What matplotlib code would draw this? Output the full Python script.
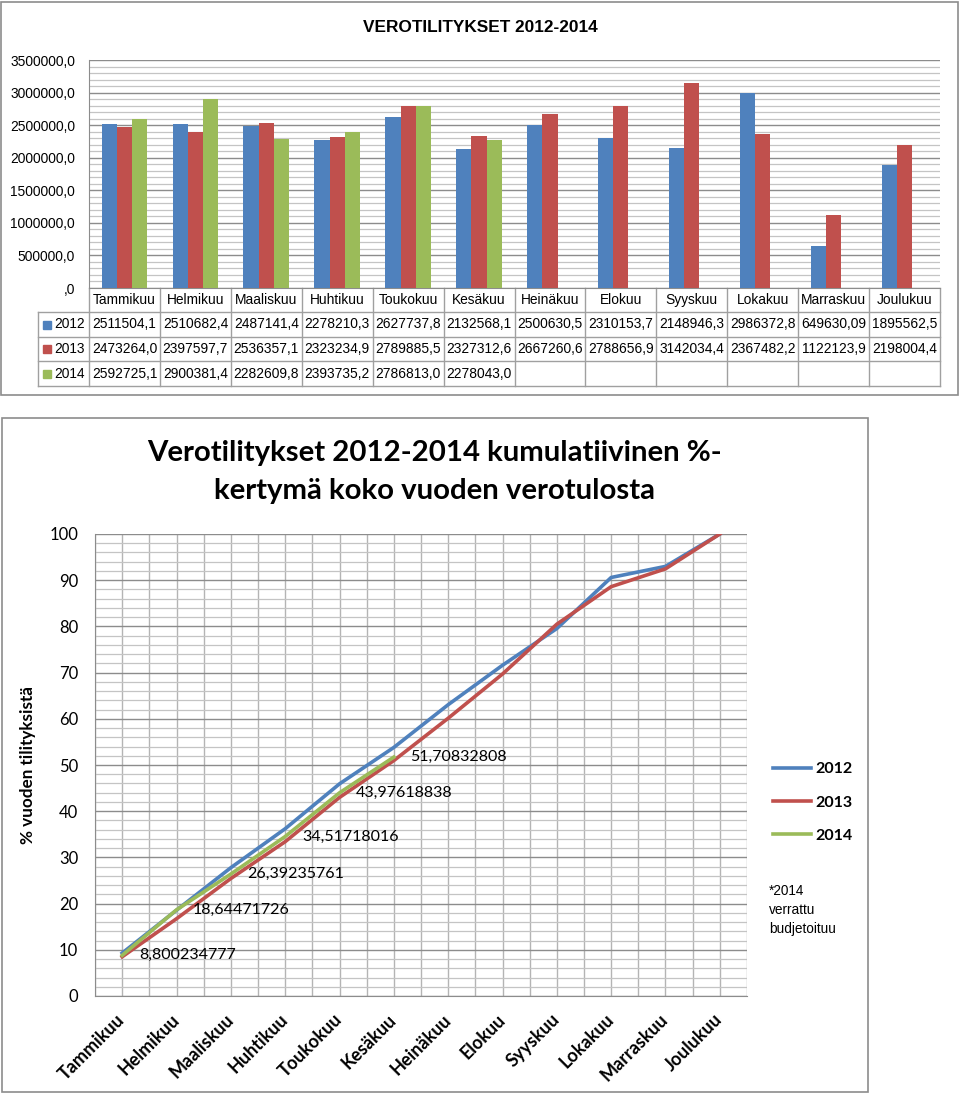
import numpy as np
import matplotlib.pyplot as plt
import matplotlib.transforms as mtransforms
from matplotlib.patches import Rectangle

# Kuukaudet ja vuodet
kuukaudet = ['Tammikuu', 'Helmikuu', 'Maaliskuu', 'Huhtikuu', 'Toukokuu', 'Kesäkuu',
             'Heinäkuu', 'Elokuu', 'Syyskuu', 'Lokakuu', 'Marraskuu', 'Joulukuu']
vuodet = ['2012', '2013', '2014']

# Verotilitykset (euroa)
tilitykset_2012 = [2511504.1, 2510682.4, 2487141.4, 2278210.3, 2627737.8, 2132568.1,
                   2500630.5, 2310153.7, 2148946.3, 2986372.8, 649630.09, 1895562.5]
tilitykset_2013 = [2473264.0, 2397597.7, 2536357.1, 2323234.9, 2789885.5, 2327312.6,
                   2667260.6, 2788656.9, 3142034.4, 2367482.2, 1122123.9, 2198004.4]
tilitykset_2014 = [2592725.1, 2900381.4, 2282609.8, 2393735.2, 2786813.0, 2278043.0]

# Taulukon tekstit sellaisinaan
taulukko_2012 = ['2511504,1', '2510682,4', '2487141,4', '2278210,3', '2627737,8', '2132568,1',
                 '2500630,5', '2310153,7', '2148946,3', '2986372,8', '649630,09', '1895562,5']
taulukko_2013 = ['2473264,0', '2397597,7', '2536357,1', '2323234,9', '2789885,5', '2327312,6',
                 '2667260,6', '2788656,9', '3142034,4', '2367482,2', '1122123,9', '2198004,4']
taulukko_2014 = ['2592725,1', '2900381,4', '2282609,8', '2393735,2', '2786813,0', '2278043,0']
y_tikit_yla = [',0', '500000,0', '1000000,0', '1500000,0', '2000000,0',
               '2500000,0', '3000000,0', '3500000,0']

# Kumulatiivinen kertymä (%)
kertyma_2012 = [9.29, 18.57, 27.77, 36.20, 45.92, 53.80, 63.05, 71.59, 79.54, 90.59, 92.99, 100.0]
kertyma_2013 = [8.49, 16.72, 25.43, 33.40, 42.98, 50.96, 60.12, 69.69, 80.48, 88.60, 92.46, 100.0]
kertyma_2014 = [8.800234777, 18.64471726, 26.39235761, 34.51718016, 43.97618838, 51.70832808]

sininen = '#4F81BD'
punainen = '#C0504D'
vihrea = '#9BBB59'
arial = ['Liberation Sans', 'DejaVu Sans']
calibri = ['Lato', 'DejaVu Sans']

W, H = 960, 1096
fig = plt.figure(figsize=(W / 100, H / 100), dpi=100)


def fx(px):
    return px / W


def fy(py):
    return 1 - py / H


# Kehykset
fig.add_artist(Rectangle((fx(1), fy(395)), fx(958) - fx(1), fy(2) - fy(395),
                         fill=False, ec='#8c8c8c', lw=1.2, transform=fig.transFigure))
fig.add_artist(Rectangle((fx(2), fy(1092)), fx(868) - fx(2), fy(418) - fy(1092),
                         fill=False, ec='#8c8c8c', lw=1.2, transform=fig.transFigure))

# ---------------- Ylempi kuva: pylväät + taulukko ----------------
ax1 = fig.add_axes([fx(89), fy(288), fx(940) - fx(89), fy(60) - fy(288)])
x = np.arange(len(kuukaudet))
w = 0.215
ax1.bar(x - w, tilitykset_2012, w, color=sininen, zorder=3)
ax1.bar(x, tilitykset_2013, w, color=punainen, zorder=3)
ax1.bar(x[:len(tilitykset_2014)] + w, tilitykset_2014, w, color=vihrea, zorder=3)
ax1.set_xlim(-0.5, 11.5)
ax1.set_ylim(0, 3500000)
ax1.set_yticks(np.arange(0, 3500001, 500000))
ax1.set_yticklabels(y_tikit_yla, family=arial, fontsize=9.9)
ax1.set_yticks(np.arange(0, 3500001, 100000), minor=True)
ax1.set_xticks([])
ax1.grid(which='major', axis='y', color='#8c8c8c', lw=1.0)
ax1.grid(which='minor', axis='y', color='#c4c4c4', lw=0.9)
ax1.set_axisbelow(True)
ax1.tick_params(which='both', length=0, pad=10)
for s in ['top', 'right']:
    ax1.spines[s].set_visible(False)
for s in ['left', 'bottom']:
    ax1.spines[s].set_color('#8c8c8c')

fig.text(0.5, fy(28), 'VEROTILITYKSET 2012-2014', ha='center', va='center',
         family=arial, fontweight='bold', fontsize=12.4)

# Taulukko akselin alle
tr = mtransforms.blended_transform_factory(ax1.transData, ax1.transAxes)
rivit_px = [288, 312, 337, 361, 386]
rivit = [(288 - p) / 228 for p in rivit_px]
vasen = -0.5 - 51 / 70.92
viiva = dict(color='#a0a0a0', lw=1.0, transform=tr, clip_on=False)
for r in rivit[1:]:
    ax1.plot([vasen, 11.5], [r, r], **viiva)
for k in range(13):
    ax1.plot([k - 0.5, k - 0.5], [rivit[0], rivit[-1]], **viiva)
ax1.plot([vasen, vasen], [rivit[1], rivit[-1]], **viiva)

tfont = dict(family=arial, fontsize=9.9, ha='center', va='center', transform=tr)
yy = [(rivit[i] + rivit[i + 1]) / 2 for i in range(4)]
for i, k in enumerate(kuukaudet):
    ax1.text(i, yy[0], k, **tfont)
for rivi, (tekstit, vari, vuosi) in enumerate(zip([taulukko_2012, taulukko_2013, taulukko_2014],
                                                   [sininen, punainen, vihrea], vuodet)):
    for i, t in enumerate(tekstit):
        ax1.text(i, yy[rivi + 1], t, **tfont)
    ax1.plot([-0.5 - 42 / 70.92], [yy[rivi + 1]], marker='s', ms=6, color=vari,
             transform=tr, clip_on=False)
    ax1.text(-0.5 - 4 / 70.92, yy[rivi + 1], vuosi, family=arial, fontsize=9.9,
             ha='right', va='center', transform=tr)

# ---------------- Alempi kuva: kumulatiivinen kertymä ----------------
ax2 = fig.add_axes([fx(95), fy(996), fx(747) - fx(95), fy(534) - fy(996)])
ax2.plot(x, kertyma_2012, color=sininen, lw=2.6, label='2012', zorder=3)
ax2.plot(x, kertyma_2013, color=punainen, lw=2.6, label='2013', zorder=3)
x14 = x[:len(kertyma_2014)]
ax2.plot(x14, kertyma_2014, color=vihrea, lw=2.6, label='2014', zorder=4)
for xi, v in zip(x14, kertyma_2014):
    ax2.annotate(f'{v}'.replace('.', ','), (xi, v), xytext=(12, 0),
                 textcoords='offset points', ha='left', va='center',
                 family=calibri, fontsize=11.5, zorder=5)
ax2.set_xlim(-0.5, 11.5)
ax2.set_ylim(0, 100)
ax2.set_yticks(np.arange(0, 101, 10))
ax2.set_yticks(np.arange(0, 101, 2), minor=True)
ax2.set_xticks(x)
ax2.set_xticks(np.arange(-0.5, 12, 1), minor=True)
ax2.grid(which='major', axis='y', color='#8c8c8c', lw=1.0)
ax2.grid(which='minor', axis='y', color='#c4c4c4', lw=0.9)
ax2.grid(which='both', axis='x', color='#b4b4b4', lw=1.0)
ax2.set_axisbelow(True)
ax2.tick_params(which='both', length=0)
ax2.tick_params(axis='y', pad=12, labelsize=12)
for lab in ax2.get_yticklabels():
    lab.set_family(calibri)
ax2.set_xticklabels(kuukaudet, rotation=45, ha='right', va='center', rotation_mode='anchor',
                    family=calibri, fontweight='bold', fontsize=13)
ax2.tick_params(axis='x', pad=15)
for s in ['top', 'right']:
    ax2.spines[s].set_visible(False)
for s in ['left', 'bottom']:
    ax2.spines[s].set_color('#8c8c8c')
ax2.set_ylabel('% vuoden tilityksistä', family=calibri, fontweight='bold', fontsize=12.3)
ax2.yaxis.set_label_coords((36 - 95) / (747 - 95), (996 - 765) / (996 - 534))

fig.text(fx(434), fy(472), 'Verotilitykset 2012-2014 kumulatiivinen %-\nkertymä koko vuoden verotulosta',
         ha='center', va='center', family=calibri, fontweight='bold', fontsize=21.2,
         linespacing=1.6)

ax2.legend(loc='upper left', bbox_to_anchor=(fx(773), fy(762)), bbox_transform=fig.transFigure,
           frameon=False, handlelength=2.4, handletextpad=0.25, labelspacing=1.2,
           borderpad=0, borderaxespad=0,
           prop=dict(family=calibri, weight='bold', size=11.5))

fig.text(fx(769), fy(884), '*2014\nverrattu\nbudjetoituu', ha='left', va='top',
         family=arial, fontsize=9.8, linespacing=1.45)

fig.savefig('out.png', dpi=100, facecolor='white')
